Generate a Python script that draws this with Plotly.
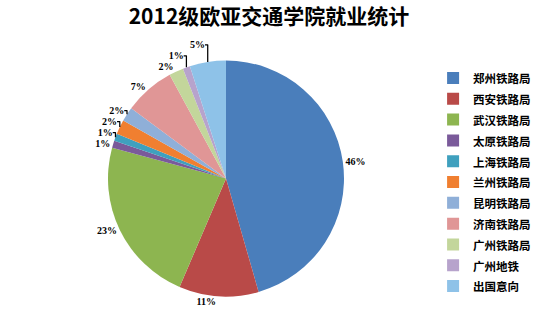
import plotly.graph_objects as go

labels = ["郑州铁路局", "西安铁路局", "武汉铁路局", "太原铁路局", "上海铁路局", "兰州铁路局",
          "昆明铁路局", "济南铁路局", "广州铁路局", "广州地铁", "出国意向"]
values = [46, 11, 23, 1, 1, 2, 2, 7, 2, 1, 5]
colors = ["#4A7EBB", "#B94A48", "#8DB550", "#7A5A9A", "#3FA0BE", "#F07F30",
          "#8FAFD8", "#E09696", "#C3D69B", "#B7A3CC", "#8EC2E8"]

legend_labels = ['<span style="font-size:11.5px"><b>%s</b></span>' % s for s in labels]

fig = go.Figure(go.Pie(
    labels=legend_labels, values=values, sort=False, direction="clockwise", rotation=0,
    marker=dict(colors=colors, line=dict(width=0)),
    texttemplate="<b>%{percent:.0%}</b>", textposition="outside",
    textfont=dict(family="Liberation Serif", size=10, color="black"),
    domain=dict(x=[108/538, 344/538], y=[1-297/324, 1-60/324]),
    automargin=False,
    hoverinfo="label+percent",
))
fig.update_layout(
    width=538, height=324, margin=dict(l=0, r=0, t=0, b=0, autoexpand=False),
    paper_bgcolor="white", plot_bgcolor="white",
    title=dict(text="<b>2012级欧亚交通学院就业统计</b>", x=0.5, xanchor="center", y=0.948, yanchor="middle",
               font=dict(family="Noto Sans CJK SC", size=21, color="black")),
    legend=dict(x=0.805, y=0.438, xanchor="left", yanchor="middle",
                font=dict(family="Noto Sans CJK SC", size=13.7, color="black"),
                itemwidth=30),
)
fig.write_html("out.html")
